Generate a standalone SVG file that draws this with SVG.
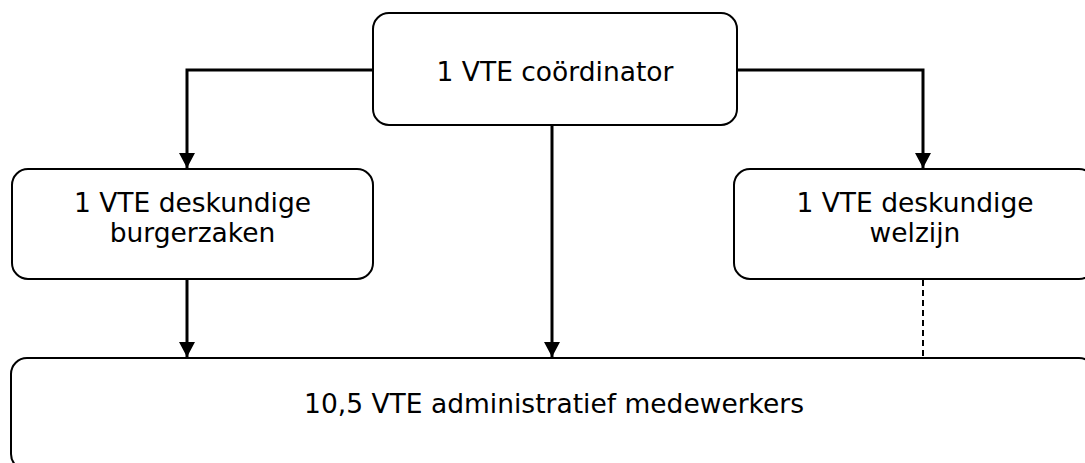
<svg xmlns="http://www.w3.org/2000/svg" width="1085" height="463" viewBox="0 0 1085 463">
<style>
.box{fill:#fff;stroke:#000;stroke-width:2}
.t{font-family:"DejaVu Sans",Verdana,sans-serif;font-size:26.5px;fill:#000;text-anchor:middle}
.c{fill:none;stroke:#000;stroke-width:3}
.d{fill:none;stroke:#000;stroke-width:2;stroke-dasharray:6 4}
</style>
<defs>
<marker id="arr" markerUnits="userSpaceOnUse" markerWidth="16" markerHeight="16" viewBox="0 0 16 16" refX="15" refY="8" orient="auto">
<path d="M0,0 L15,8 L0,16 Z" fill="#000"/>
</marker>
</defs>
<g id="connectors">
<path class="c" d="M373,70 H187 V168" marker-end="url(#arr)"/>
<path class="c" d="M737,70 H923 V168" marker-end="url(#arr)"/>
<path class="c" d="M552,125 V357" marker-end="url(#arr)"/>
<path class="c" d="M187,279 V357" marker-end="url(#arr)"/>
<path class="d" d="M923,280 V358"/>
</g>
<g id="coordinator">
<rect class="box" x="373" y="13" width="364" height="112" rx="16"/>
<text class="t" x="555" y="81">1 VTE coördinator</text>
</g>
<g id="burgerzaken">
<rect class="box" x="12" y="169" width="361" height="110" rx="16"/>
<text class="t" x="192.5" y="212">1 VTE deskundige</text>
<text class="t" x="192.5" y="242">burgerzaken</text>
</g>
<g id="welzijn">
<rect class="box" x="734" y="169" width="361" height="110" rx="16"/>
<text class="t" x="915" y="212">1 VTE deskundige</text>
<text class="t" x="915" y="242">welzijn</text>
</g>
<g id="medewerkers">
<rect class="box" x="11" y="358" width="1084" height="112" rx="16"/>
<text class="t" x="554" y="413">10,5 VTE administratief medewerkers</text>
</g>
</svg>
